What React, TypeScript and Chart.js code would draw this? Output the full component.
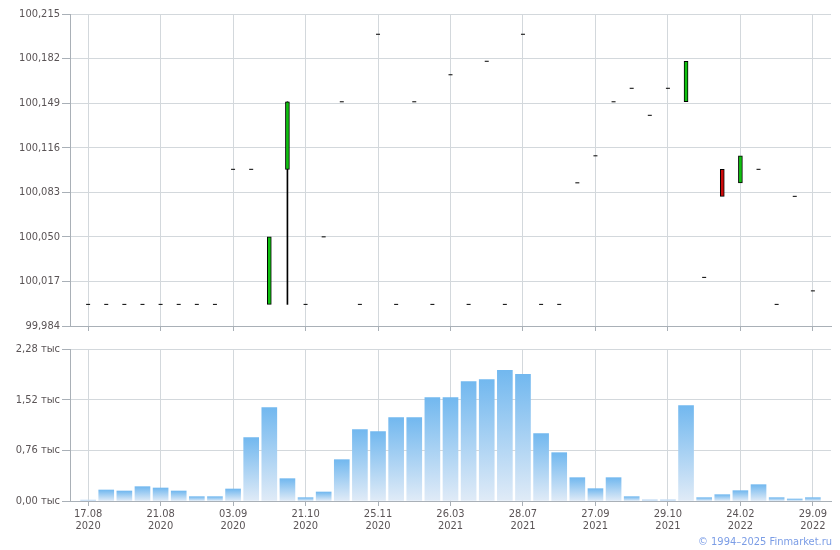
import React, { useEffect, useRef } from "react";
import { Chart, registerables } from "chart.js";

Chart.register(...registerables);

const FONT = "'DejaVu Sans Condensed', 'DejaVu Sans', sans-serif";
const TEXT_COLOR = "#5a5456";
const GRID_COLOR = "#d3d8dc";
const AXIS_COLOR = "#a9b0b7";

// x positions: 41 trading sessions (index 0..40), labels every 4th
const xTickIndex = [0, 4, 8, 12, 16, 20, 24, 28, 32, 36, 40];
const xTickDates = ["17.08", "21.08", "03.09", "21.10", "25.11", "26.03", "28.07", "27.09", "29.10", "24.02", "29.09"];
const xTickYears = ["2020", "2020", "2020", "2020", "2020", "2021", "2021", "2021", "2021", "2022", "2022"];

const priceOpen = [
  100.0, 100.0, 100.0, 100.0, 100.0, 100.0, 100.0, 100.0, 100.1, 100.1,
  100.0, 100.1, 100.0, 100.05, 100.15, 100.0, 100.2, 100.0, 100.15, 100.0,
  100.17, 100.0, 100.18, 100.0, 100.2, 100.0, 100.0, 100.09, 100.11, 100.15,
  100.16, 100.14, 100.16, 100.15, 100.02, 100.1, 100.09, 100.1, 100.0, 100.08,
  100.01,
];
const priceClose = [
  100.0, 100.0, 100.0, 100.0, 100.0, 100.0, 100.0, 100.0, 100.1, 100.1,
  100.05, 100.15, 100.0, 100.05, 100.15, 100.0, 100.2, 100.0, 100.15, 100.0,
  100.17, 100.0, 100.18, 100.0, 100.2, 100.0, 100.0, 100.09, 100.11, 100.15,
  100.16, 100.14, 100.16, 100.18, 100.02, 100.08, 100.11, 100.1, 100.0, 100.08,
  100.01,
];
const priceHigh = [
  100.0, 100.0, 100.0, 100.0, 100.0, 100.0, 100.0, 100.0, 100.1, 100.1,
  100.05, 100.15, 100.0, 100.05, 100.15, 100.0, 100.2, 100.0, 100.15, 100.0,
  100.17, 100.0, 100.18, 100.0, 100.2, 100.0, 100.0, 100.09, 100.11, 100.15,
  100.16, 100.14, 100.16, 100.18, 100.02, 100.1, 100.11, 100.1, 100.0, 100.08,
  100.01,
];
const priceLow = [
  100.0, 100.0, 100.0, 100.0, 100.0, 100.0, 100.0, 100.0, 100.1, 100.1,
  100.0, 100.0, 100.0, 100.05, 100.15, 100.0, 100.2, 100.0, 100.15, 100.0,
  100.17, 100.0, 100.18, 100.0, 100.2, 100.0, 100.0, 100.09, 100.11, 100.15,
  100.16, 100.14, 100.16, 100.15, 100.02, 100.08, 100.09, 100.1, 100.0, 100.08,
  100.01,
];
const volume = [
  15, 165, 150, 215, 195, 150, 65, 65, 180, 950,
  1400, 335, 50, 135, 620, 1070, 1040, 1250, 1250, 1550,
  1550, 1790, 1820, 1960, 1900, 1010, 725, 350, 185, 350,
  65, 20, 20, 1430, 50, 95, 155, 245, 50, 30,
  50,
];

const priceTicks = [99.984, 100.017, 100.05, 100.083, 100.116, 100.149, 100.182, 100.215];
const volumeTicks = [0, 760, 1520, 2280];

const X_MIN = -1;
const X_MAX = 41;

function xScale(showLabels: boolean, height: number) {
  return {
    type: "linear" as const,
    min: X_MIN,
    max: X_MAX,
    offset: false,
    afterBuildTicks: (s: any) => {
      s.ticks = xTickIndex.map((v) => ({ value: v }));
    },
    afterFit: (s: any) => {
      s.height = height;
    },
    grid: {
      color: GRID_COLOR,
      tickColor: AXIS_COLOR,
      tickLength: 5,
      offset: false,
    },
    border: { display: true, color: AXIS_COLOR, width: 1 },
    ticks: {
      display: showLabels,
      autoSkip: false,
      maxRotation: 0,
      minRotation: 0,
      padding: 2,
      color: TEXT_COLOR,
      font: { family: FONT, size: 11, lineHeight: 1.1 },
      callback: (v: any) => {
        const k = xTickIndex.indexOf(Number(v));
        return k >= 0 ? [xTickDates[k], xTickYears[k]] : "";
      },
    },
  };
}

function yScale(min: number, max: number, tickVals: number[], fmt: (v: number) => string) {
  return {
    type: "linear" as const,
    min,
    max,
    afterBuildTicks: (s: any) => {
      s.ticks = tickVals.map((v) => ({ value: v }));
    },
    afterFit: (s: any) => {
      s.width = 70;
    },
    grid: { color: GRID_COLOR, tickColor: AXIS_COLOR, tickLength: 8 },
    border: { display: true, color: AXIS_COLOR, width: 1 },
    ticks: {
      padding: 2,
      color: TEXT_COLOR,
      font: { family: FONT, size: 11 },
      callback: (v: any) => fmt(Number(v)),
    },
  };
}

export default function App() {
  const topRef = useRef<HTMLCanvasElement>(null);
  const botRef = useRef<HTMLCanvasElement>(null);

  useEffect(() => {
    const idx = priceOpen.map((_, i) => i);
    const wicks = idx
      .filter((i) => priceHigh[i] > Math.max(priceOpen[i], priceClose[i]) || priceLow[i] < Math.min(priceOpen[i], priceClose[i]))
      .map((i) => ({ x: i, y: [priceLow[i], priceHigh[i]] }));
    const bodyIdx = idx.filter((i) => priceOpen[i] !== priceClose[i]);
    const bodies = bodyIdx.map((i) => ({ x: i, y: [priceOpen[i], priceClose[i]] }));
    const bodyColors = bodyIdx.map((i) => (priceClose[i] > priceOpen[i] ? "#0fc00f" : "#cc0a0a"));
    const dashes = idx.filter((i) => priceOpen[i] === priceClose[i]).map((i) => ({ x: i, y: priceClose[i] }));

    const top = new Chart(topRef.current!, {
      type: "bar",
      data: {
        datasets: [
          {
            type: "bar",
            data: wicks as any,
            backgroundColor: "#000",
            borderWidth: 0,
            barThickness: 1,
            grouped: false,
            order: 3,
          } as any,
          {
            type: "bar",
            data: bodies as any,
            backgroundColor: bodyColors,
            borderColor: "#000",
            borderWidth: 1,
            borderSkipped: false,
            barThickness: 4,
            grouped: false,
            order: 2,
          } as any,
          {
            type: "line",
            data: dashes as any,
            showLine: false,
            pointStyle: "line",
            pointRadius: 2,
            pointBorderWidth: 1,
            pointBorderColor: "#000",
            borderColor: "#000",
            order: 1,
          } as any,
        ],
      },
      options: {
        animation: false,
        responsive: false,
        maintainAspectRatio: false,
        events: [],
        layout: { padding: { top: 14, right: 9, left: 0, bottom: 0 } },
        plugins: { legend: { display: false }, tooltip: { enabled: false } },
        scales: {
          x: xScale(false, 14) as any,
          y: yScale(priceTicks[0], priceTicks[priceTicks.length - 1], priceTicks, (v) =>
            v.toFixed(3).replace(".", ",")
          ) as any,
        },
      },
    });

    const bot = new Chart(botRef.current!, {
      type: "bar",
      data: {
        datasets: [
          {
            data: volume.map((v, i) => ({ x: i, y: v })) as any,
            barThickness: 15,
            borderWidth: 0,
            backgroundColor: (ctx: any) => {
              const chart = ctx.chart;
              const ys = chart.scales && chart.scales.y;
              if (ctx.type !== "data" || !ys || !chart.chartArea) return "#8fc6f1";
              const v = ctx.parsed ? ctx.parsed.y : ctx.raw.y;
              const t = ys.getPixelForValue(v);
              const b = ys.getPixelForValue(0);
              if (b - t < 2) return "#c4dcf4";
              const g = chart.ctx.createLinearGradient(0, t, 0, b);
              g.addColorStop(0, "#72b8ef");
              g.addColorStop(1, "#e0ebf7");
              return g;
            },
          } as any,
        ],
      },
      options: {
        animation: false,
        responsive: false,
        maintainAspectRatio: false,
        events: [],
        layout: { padding: { top: 9, right: 9, left: 0, bottom: 0 } },
        plugins: { legend: { display: false }, tooltip: { enabled: false } },
        scales: {
          x: xScale(true, 49) as any,
          y: yScale(volumeTicks[0], volumeTicks[volumeTicks.length - 1], volumeTicks, (v) =>
            (v / 1000).toFixed(2).replace(".", ",") + " тыс"
          ) as any,
        },
      },
    });

    return () => {
      top.destroy();
      bot.destroy();
    };
  }, []);

  return (
    <div style={{ position: "absolute", left: 0, top: 0, width: 840, height: 550, background: "#fff", overflow: "hidden" }}>
      <canvas ref={topRef} width={840} height={340} style={{ position: "absolute", left: 0, top: 0, width: 840, height: 340 }} />
      <canvas ref={botRef} width={840} height={210} style={{ position: "absolute", left: 0, top: 340, width: 840, height: 210 }} />
      <div
        style={{
          position: "absolute",
          right: 8,
          top: 535,
          fontFamily: FONT,
          fontSize: 11,
          lineHeight: "13px",
          color: "#7b9de6",
          whiteSpace: "nowrap",
        }}
      >
        © 1994–2025 Finmarket.ru
      </div>
    </div>
  );
}
